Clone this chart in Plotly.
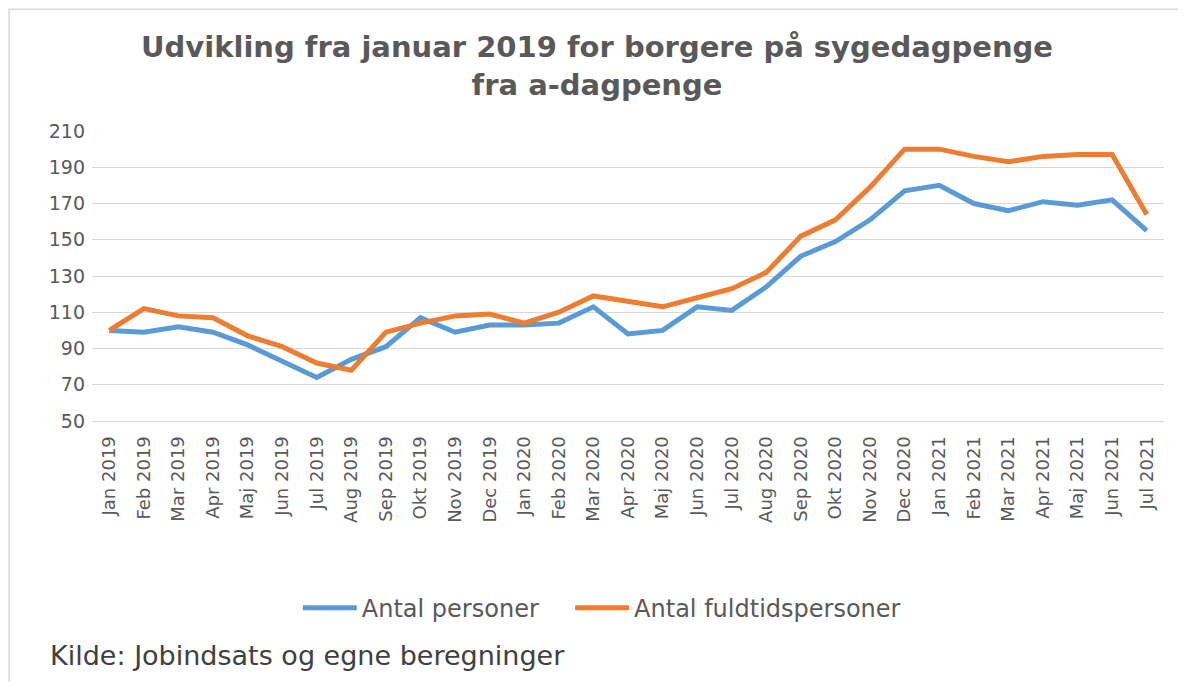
import plotly.graph_objects as go

months = ["Jan 2019", "Feb 2019", "Mar 2019", "Apr 2019", "Maj 2019", "Jun 2019", "Jul 2019",
          "Aug 2019", "Sep 2019", "Okt 2019", "Nov 2019", "Dec 2019", "Jan 2020", "Feb 2020",
          "Mar 2020", "Apr 2020", "Maj 2020", "Jun 2020", "Jul 2020", "Aug 2020", "Sep 2020",
          "Okt 2020", "Nov 2020", "Dec 2020", "Jan 2021", "Feb 2021", "Mar 2021", "Apr 2021",
          "Maj 2021", "Jun 2021", "Jul 2021"]

antal_personer = [100, 99, 102, 99, 92, 83, 74, 84, 91, 107, 99, 103, 103, 104, 113, 98, 100,
                  113, 111, 124, 141, 149, 161, 177, 180, 170, 166, 171, 169, 172, 155]

antal_fuldtid = [100, 112, 108, 107, 97, 91, 82, 78, 99, 104, 108, 109, 104, 110, 119, 116, 113,
                 118, 123, 132, 152, 161, 179, 200, 200, 196, 193, 196, 197, 197, 164]

y_ticks = [50, 70, 90, 110, 130, 150, 170, 190, 210]

FONT = "DejaVu Sans"
GREY = "#595959"

fig = go.Figure()
fig.add_trace(go.Scatter(x=months, y=antal_personer, mode="lines", name="Antal personer",
                         line=dict(color="#5B9BD5", width=5), legend="legend"))
fig.add_trace(go.Scatter(x=months, y=antal_fuldtid, mode="lines", name="Antal fuldtidspersoner",
                         line=dict(color="#ED7D31", width=5), legend="legend2"))

legend_style = dict(orientation="h", y=-0.645, yanchor="middle", xanchor="left",
                    font=dict(size=24, color=GREY), bgcolor="rgba(0,0,0,0)", itemwidth=54)

# page body has an 8px margin; figure is sized to fill the rest of the window
fig.update_layout(
    width=1178, height=674,
    margin=dict(l=84, r=22, t=123, b=261),
    paper_bgcolor="white", plot_bgcolor="white",
    font=dict(family=FONT, color=GREY),
    title=dict(text="<b>Udvikling fra januar 2019 for borgere på sygedagpenge<br>fra a-dagpenge</b>",
               x=0.5, xanchor="center", y=0.927, yanchor="middle",
               font=dict(family=FONT, size=29, color=GREY)),
    xaxis=dict(type="category", range=[-0.5, 30.5], tickangle=-90,
               tickfont=dict(size=18, color=GREY), showgrid=False,
               showline=True, linecolor="#d9d9d9", linewidth=1, ticks="", ticklen=0,
               ticklabelstandoff=7),
    yaxis=dict(range=[50, 210], tickvals=y_ticks, tickfont=dict(size=19, color=GREY),
               showgrid=True, gridcolor="#d9d9d9", gridwidth=1, zeroline=False,
               showline=False, ticks="", ticklabelstandoff=6),
    legend=dict(x=0.192, **legend_style),
    legend2=dict(x=0.446, **legend_style),
    showlegend=True,
)

fig.add_annotation(text="Kilde: Jobindsats og egne beregninger", xref="paper", yref="paper",
                   x=-0.041, y=-0.81, xanchor="left", yanchor="middle", showarrow=False,
                   font=dict(size=27, color="#404040", family=FONT))

fig.add_shape(type="rect", xref="paper", yref="paper", x0=-0.0774, x1=1.1, y0=-1.1, y1=1.42,
              line=dict(color="#d9d9d9", width=1.5), layer="below")

fig.write_html("out.html")
